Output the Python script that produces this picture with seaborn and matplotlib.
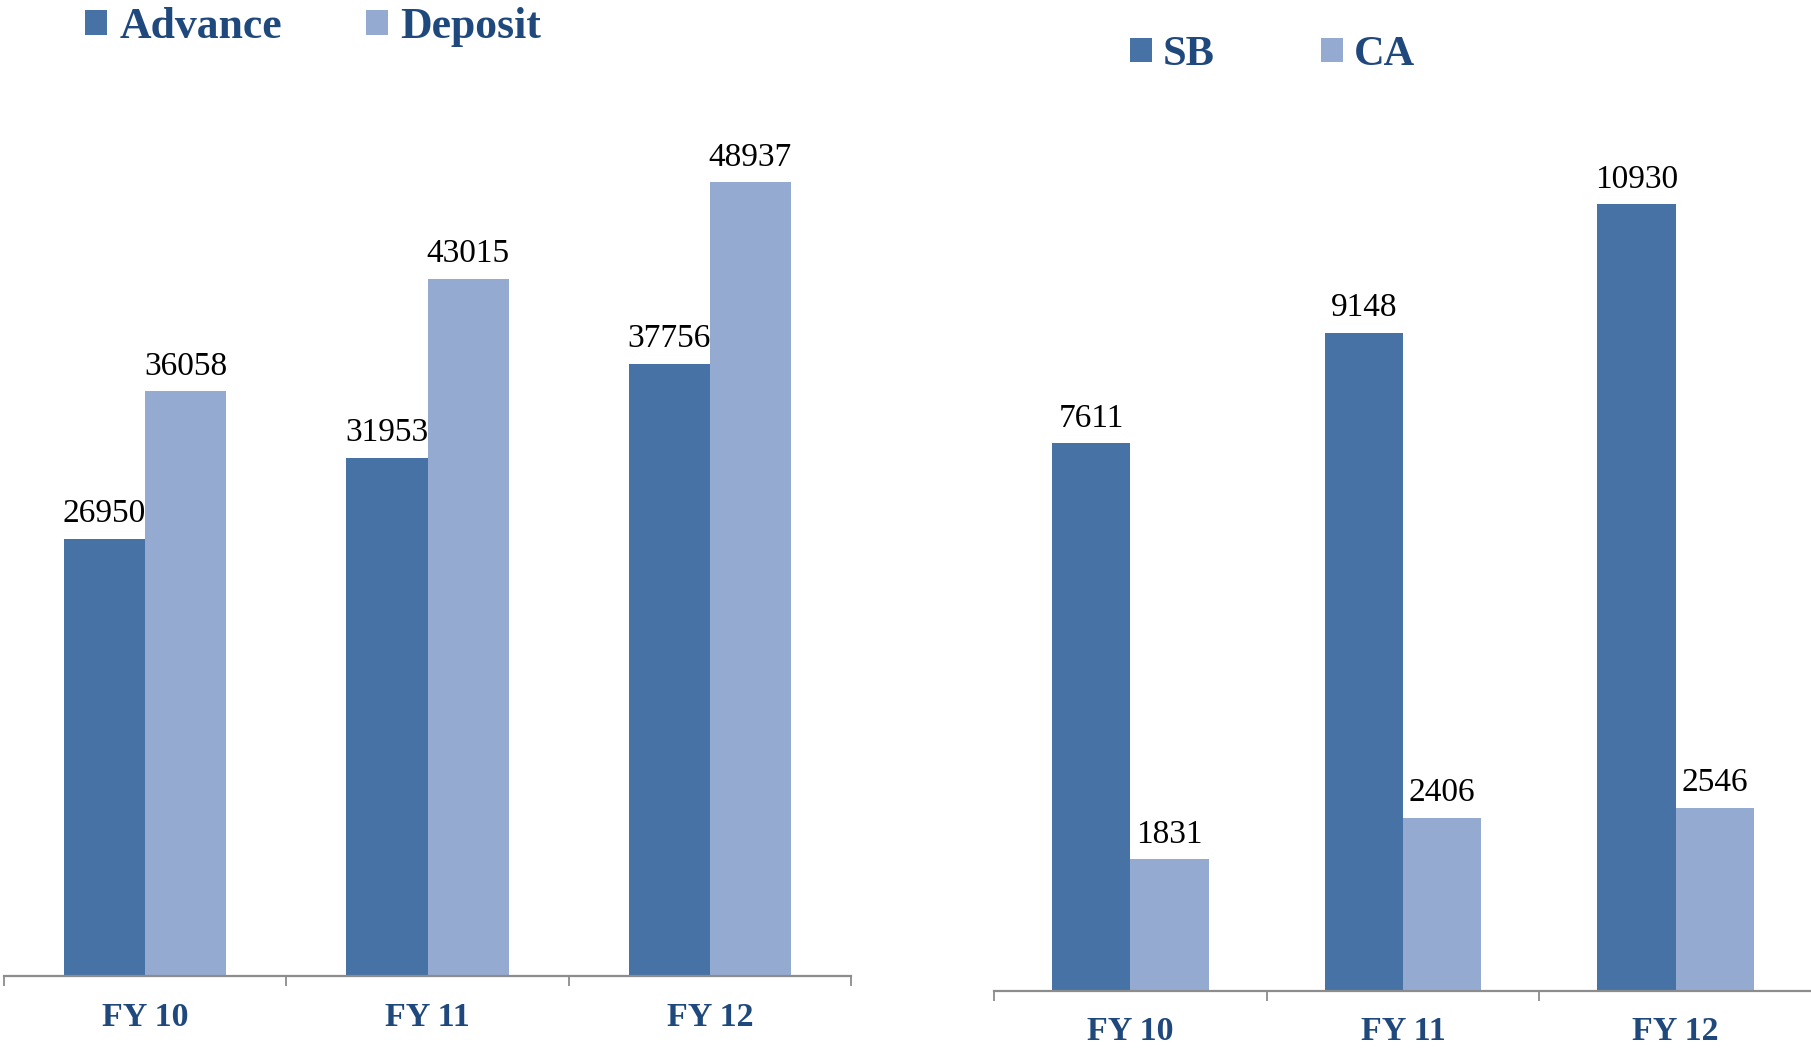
import matplotlib
matplotlib.use("Agg")
import matplotlib.pyplot as plt
from matplotlib.patches import Patch
import pandas as pd
import seaborn as sns

years = ["FY 10", "FY 11", "FY 12"]
advance = [26950, 31953, 37756]
deposit = [36058, 43015, 48937]
sb = [7611, 9148, 10930]
ca = [1831, 2406, 2546]

DARK = "#4672A6"
LIGHT = "#95AAD1"
TEXT = "#1F497D"
AXIS = "#8C8C8C"

sns.set_style("white")
plt.rcParams["font.family"] = ["Liberation Serif", "DejaVu Serif"]

W, H = 1811, 1052
fig = plt.figure(figsize=(W / 100, H / 100), dpi=100)


def frac(x0, x1, y_axis, y_top):
    # pixel box -> figure fraction [left, bottom, width, height]
    return [x0 / W, (H - y_axis) / H, (x1 - x0) / W, (y_axis - y_top) / H]


def panel(rect, s1, s2, names, ymax, pad):
    ax = fig.add_axes(rect)
    df = pd.DataFrame({
        "year": years * 2,
        "kind": [names[0]] * 3 + [names[1]] * 3,
        "value": s1 + s2,
    })
    sns.barplot(data=df, x="year", y="value", hue="kind", order=years,
                hue_order=names, palette={names[0]: DARK, names[1]: LIGHT},
                width=0.575, saturation=1, legend=False, ax=ax,
                edgecolor="none", linewidth=0)
    for c in ax.containers:
        ax.bar_label(c, labels=[f"{int(v)}" for v in c.datavalues],
                     padding=7, fontsize=24, color="black")
    ax.set_xlim(-0.5, 2.5)
    ax.set_ylim(0, ymax)
    ax.set_xlabel("")
    ax.set_ylabel("")
    ax.set_yticks([])
    for s in ["top", "right", "left"]:
        ax.spines[s].set_visible(False)
    ax.spines["bottom"].set_color(AXIS)
    ax.spines["bottom"].set_linewidth(1.6)
    ax.set_xticks([-0.5, 0.5, 1.5, 2.5], minor=True)
    ax.tick_params(axis="x", which="minor", bottom=True, length=7,
                   width=1.3, color=AXIS, direction="out")
    ax.tick_params(axis="x", which="major", length=0, pad=pad)
    for t in ax.get_xticklabels():
        t.set_fontsize(24.5)
        t.set_fontweight("bold")
        t.set_color(TEXT)
    ax.patch.set_alpha(0)
    return ax


# left: advance vs deposit
axl = panel(frac(4, 851, 976, 976 - 55000 * 0.016215), advance, deposit,
            ["Advance", "Deposit"], 55000, 19)
# right: SB vs CA
axr = panel(frac(994, 1812, 991, 991 - 12500 * 0.07197), sb, ca,
            ["SB", "CA"], 12500, 18)

hl = [Patch(facecolor=DARK, edgecolor="none"), Patch(facecolor=LIGHT, edgecolor="none")]
fig.legend(hl, ["Advance", "Deposit"], loc="upper left",
           bbox_to_anchor=(85 / W, 1 - 7 / H), ncol=2, frameon=False,
           prop={"weight": "bold", "size": 31.5}, labelcolor=TEXT,
           handlelength=0.5, handleheight=0.5, handletextpad=0.28,
           columnspacing=1.92, borderpad=0, borderaxespad=0)
fig.legend(hl, ["SB", "CA"], loc="upper left",
           bbox_to_anchor=(1130 / W, 1 - 36 / H), ncol=2, frameon=False,
           prop={"weight": "bold", "size": 30.5}, labelcolor=TEXT,
           handlelength=0.52, handleheight=0.52, handletextpad=0.24,
           columnspacing=2.53, borderpad=0, borderaxespad=0)

fig.savefig("out.png", dpi=100)
